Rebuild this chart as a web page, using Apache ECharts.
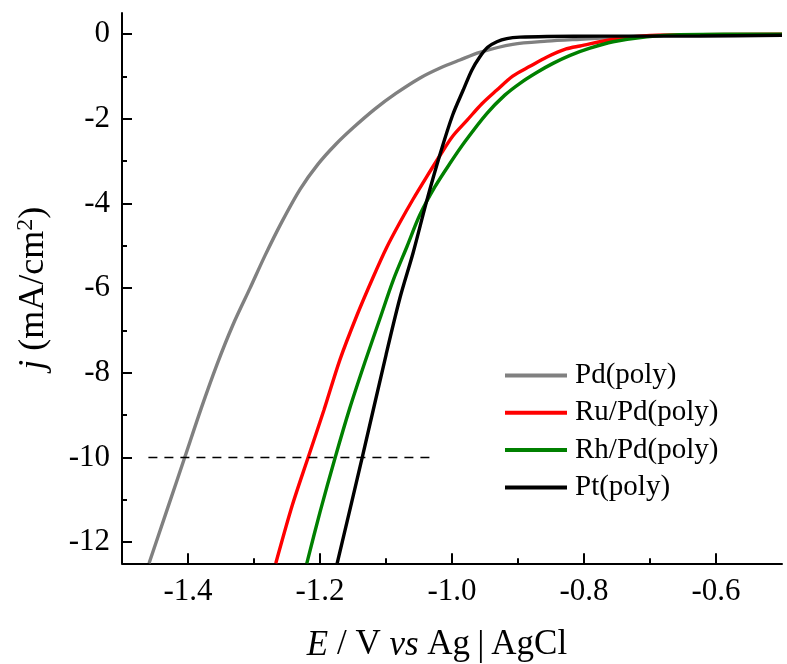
<!DOCTYPE html>
<html>
<head>
<meta charset="utf-8">
<script src="https://cdn.jsdelivr.net/npm/echarts@6/dist/echarts.min.js"></script>
<style>
html, body { margin: 0; padding: 0; background: #fff; }
#chart { width: 787px; height: 664px; }
</style>
</head>
<body>
<div id="chart"></div>
<script>
// Potentials (V vs Ag|AgCl) and current densities (mA/cm2)
const pdX = [ -1.459, -1.432, -1.405, -1.380, -1.356, -1.332, -1.306, -1.283, -1.258, -1.230, -1.203, -1.176, -1.149, -1.117, -1.085, -1.049, -1.018, -0.988, -0.958, -0.908, -0.856, -0.806, -0.756, -0.696, -0.624, -0.500 ];
const pdY = [ -12.5, -11.25, -10.0, -8.84, -7.80, -6.87, -6.00, -5.22, -4.44, -3.66, -3.07, -2.60, -2.20, -1.77, -1.40, -1.04, -0.80, -0.61, -0.43, -0.24, -0.165, -0.12, -0.08, -0.035, -0.02, -0.01 ];

const ruX = [ -1.267, -1.242, -1.218, -1.194, -1.170, -1.144, -1.120, -1.099, -1.079, -1.059, -1.038, -1.018, -0.999, -0.977, -0.955, -0.932, -0.908, -0.882, -0.856, -0.827, -0.806, -0.756, -0.705, -0.624, -0.500 ];
const ruY = [ -12.5, -11.13, -10.0, -8.88, -7.70, -6.64, -5.76, -5.04, -4.45, -3.90, -3.36, -2.86, -2.41, -2.03, -1.65, -1.32, -0.99, -0.76, -0.54, -0.35, -0.28, -0.12, -0.035, -0.012, 0 ];

const rhX = [ -1.220, -1.200, -1.177, -1.155, -1.132, -1.109, -1.089, -1.068, -1.049, -1.026, -1.003, -0.980, -0.947, -0.920, -0.897, -0.871, -0.847, -0.821, -0.791, -0.756, -0.705, -0.655, -0.500 ];
const rhY = [ -12.5, -11.29, -10.0, -8.84, -7.75, -6.71, -5.81, -5.01, -4.28, -3.61, -3.05, -2.53, -1.87, -1.44, -1.16, -0.90, -0.69, -0.50, -0.33, -0.18, -0.06, -0.01, 0 ];

const ptX = [ -1.174, -1.136, -1.100, -1.079, -1.059, -1.038, -1.018, -0.999, -0.983, -0.970, -0.958, -0.946, -0.932, -0.917, -0.897, -0.856, -0.776, -0.624, -0.500 ];
const ptY = [ -12.5, -10.0, -7.58, -6.24, -5.17, -3.92, -2.83, -1.91, -1.32, -0.85, -0.54, -0.31, -0.18, -0.106, -0.071, -0.054, -0.047, -0.043, -0.024 ];

// j = -10 mA/cm2 guide
const guideX = [ -1.46, -1.03 ];
const guideY = [ -10, -10 ];

const seriesNames = [ 'Pd(poly)', 'Ru/Pd(poly)', 'Rh/Pd(poly)', 'Pt(poly)' ];
const seriesColors = [ '#808080', '#ff0000', '#008000', '#000000' ];

const FONT = 'Liberation Serif';
const zip = ( xs, ys ) => xs.map( ( x, i ) => [ x, ys[ i ] ] );

const curves = [ [ pdX, pdY ], [ ruX, ruY ], [ rhX, rhY ], [ ptX, ptY ] ];

const tickStyle = { color: '#000', width: 2 };

const chart = echarts.init( document.getElementById( 'chart' ), null, { renderer: 'canvas' } );

chart.setOption( {
	animation: false,
	backgroundColor: '#fff',
	// grid 0 holds the data; grid 1 is inset so its ticks land on round values
	grid: [
		{ left: 122, right: 5, top: 13, bottom: 100.7, outerBoundsMode: 'none' },
		{ left: 188, right: 71, top: 34.17, bottom: 121.87, outerBoundsMode: 'none' }
	],
	xAxis: [
		{
			gridIndex: 0,
			type: 'value',
			min: -1.5,
			max: -0.5,
			axisLine: { show: true, onZero: false, lineStyle: tickStyle },
			axisTick: { show: false },
			axisLabel: { show: false },
			splitLine: { show: false },
			name: '{i|E} / V {i|vs} Ag\u2009{bar||}\u2009AgCl',
			nameLocation: 'middle',
			nameGap: 64,
			nameTextStyle: {
				fontFamily: FONT,
				fontSize: 35,
				color: '#000',
				padding: [ 0, 30, 0, 0 ],
				rich: {
					i: { fontFamily: FONT, fontSize: 35, fontStyle: 'italic', color: '#000' },
					bar: { fontFamily: FONT, fontSize: 36, color: '#000' }
				}
			}
		},
		{
			gridIndex: 1,
			type: 'value',
			min: -1.4,
			max: -0.6,
			interval: 0.2,
			offset: 21.17,
			axisLine: { show: false, onZero: false },
			axisTick: { show: true, inside: true, length: 10, lineStyle: tickStyle },
			minorTick: { show: true, splitNumber: 2, length: 5, lineStyle: tickStyle },
			axisLabel: {
				margin: 13,
				fontFamily: FONT,
				fontSize: 31,
				color: '#000',
				formatter: ( v ) => v.toFixed( 1 )
			},
			splitLine: { show: false }
		}
	],
	yAxis: [
		{
			gridIndex: 0,
			type: 'value',
			min: -12.5,
			max: 0.5,
			axisLine: { show: true, onZero: false, lineStyle: tickStyle },
			axisTick: { show: false },
			axisLabel: { show: false },
			splitLine: { show: false },
			name: '{i|j} (mA/cm{sup|2})',
			nameLocation: 'middle',
			nameGap: 68,
			nameRotate: 90,
			nameTextStyle: {
				fontFamily: FONT,
				fontSize: 36,
				color: '#000',
				rich: {
					i: { fontFamily: FONT, fontSize: 36, fontStyle: 'italic', color: '#000' },
					sup: { fontFamily: FONT, fontSize: 24, color: '#000', verticalAlign: 'top', lineHeight: 40 }
				}
			}
		},
		{
			gridIndex: 1,
			type: 'value',
			min: -12,
			max: 0,
			interval: 2,
			offset: 66,
			axisLine: { show: false, onZero: false },
			axisTick: { show: true, inside: true, length: 10, lineStyle: tickStyle },
			minorTick: { show: true, splitNumber: 2, length: 5, lineStyle: tickStyle },
			axisLabel: {
				margin: 12,
				fontFamily: FONT,
				fontSize: 31,
				color: '#000'
			},
			splitLine: { show: false }
		}
	],
	legend: {
		data: seriesNames,
		orient: 'vertical',
		left: 505,
		top: 361,
		padding: 0,
		icon: 'rect',
		itemWidth: 62,
		itemHeight: 4,
		itemGap: 8.3,
		textStyle: { fontFamily: FONT, fontSize: 29, color: '#000', lineHeight: 29, padding: [ 0, 0, 0, 3 ] }
	},
	series: curves.map( ( [ xs, ys ], i ) => ( {
		name: seriesNames[ i ],
		type: 'line',
		xAxisIndex: 0,
		yAxisIndex: 0,
		data: zip( xs, ys ),
		showSymbol: false,
		symbol: 'none',
		smooth: 0.3,
		color: seriesColors[ i ],
		lineStyle: { color: seriesColors[ i ], width: 3.4 }
	} ) ).concat( [ {
		name: 'guide',
		type: 'line',
		xAxisIndex: 0,
		yAxisIndex: 0,
		data: zip( guideX, guideY ),
		showSymbol: false,
		symbol: 'none',
		silent: true,
		lineStyle: { color: '#000', width: 1.5, type: [ 9, 7 ] }
	} ] )
} );
</script>
</body>
</html>
